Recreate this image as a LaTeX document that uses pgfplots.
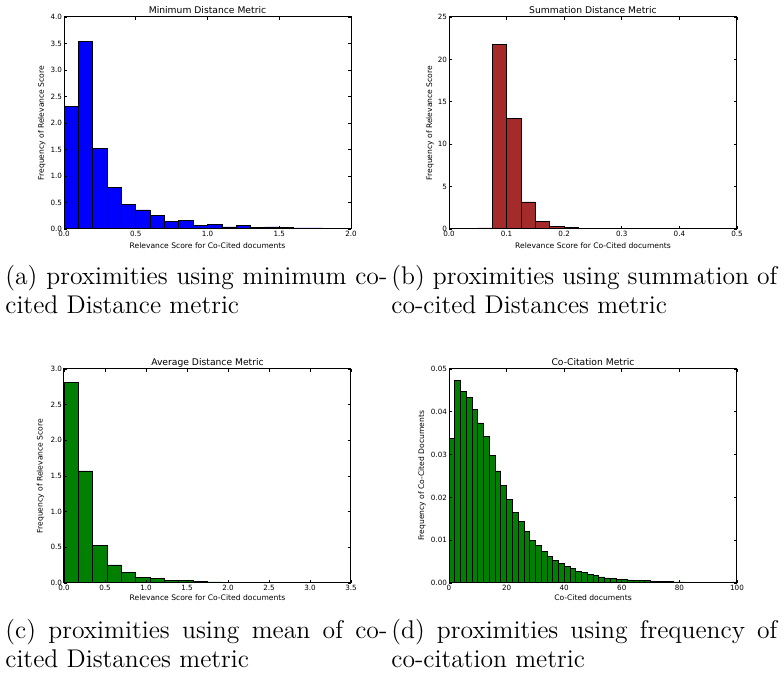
\documentclass[border=0pt]{standalone}
\usepackage{fontspec}
\usepackage{pgfplots}
\pgfplotsset{compat=1.18}
\newfontfamily\mpl{DejaVu Sans}

\definecolor{mplblue}{HTML}{0000FF}
\definecolor{mplbrown}{HTML}{A52A2A}
\definecolor{mplgreen}{HTML}{008000}

\pgfplotsset{
  mpl/.style={
    scale only axis,
    axis on top,
    axis line style={line width=0.5pt},
    tick align=inside,
    major tick length=1.3pt,
    tick style={line width=0.4pt, black},
    tick label style={font=\mpl\fontsize{3.6}{4.3}\selectfont, inner sep=0.8pt},
    /pgf/number format/assume math mode=true,
    label style={font=\mpl\fontsize{3.8}{4.5}\selectfont},
    every axis title shift=0pt,
    title style={font=\mpl\fontsize{4.6}{5.5}\selectfont, at={(axis description cs:0.5,1)}, anchor=base, yshift=1.7pt},
    scaled ticks=false,
    ymin=0,
  },
  onedec/.style={/pgf/number format/.cd, fixed, fixed zerofill, precision=1},
  bars/.style={ybar interval, draw=black, line width=0.35pt},
}
\tikzset{capt/.style={anchor=base west, inner sep=0pt, font=\fontsize{12.8}{15}\selectfont}}

\begin{document}
\begin{tikzpicture}
\useasboundingbox (0,0) rectangle (392pt,336.5pt);

% (a)
\begin{axis}[mpl, at={(32pt,222pt)}, anchor=south west, width=143.5pt, height=106pt,
  xmin=0, xmax=2, ymax=4,
  xtick={0,0.5,...,2}, ytick={0,0.5,...,4},
  xticklabel style={onedec}, yticklabel style={onedec},
  title={Minimum Distance Metric},
  xlabel={Relevance Score for Co-Cited documents},
  ylabel={Frequency of Relevance Score},
  xlabel style={at={(axis description cs:0.5,-0.094)}, anchor=base},
  ylabel style={at={(axis description cs:-0.077,0.5)}, anchor=center},
]
\addplot[bars, fill=mplblue] coordinates {
(0.0,2.32)(0.1,3.54)(0.2,1.52)(0.3,0.78)(0.4,0.47)(0.5,0.36)(0.6,0.25)(0.7,0.14)
(0.8,0.155)(0.9,0.07)(1.0,0.09)(1.1,0.04)(1.2,0.075)(1.3,0.025)(1.4,0.04)(1.5,0.03)
(1.6,0.02)(1.7,0.02)(1.8,0.012)(1.9,0.012)(2.0,0)};
\end{axis}

% (b)
\begin{axis}[mpl, at={(224.5pt,222pt)}, anchor=south west, width=144pt, height=106pt,
  xmin=0, xmax=0.5, ymax=25,
  xtick={0,0.1,...,0.5}, ytick={0,5,...,25},
  xticklabel style={onedec},
  title={Summation Distance Metric},
  xlabel={Relevance Score for Co-Cited documents},
  ylabel={Frequency of Relevance Score},
  xlabel style={at={(axis description cs:0.5,-0.094)}, anchor=base},
  ylabel style={at={(axis description cs:-0.066,0.5)}, anchor=center},
]
\addplot[bars, fill=mplbrown] coordinates {
(0.025,0.08)(0.05,0.12)(0.075,21.75)(0.1,13.05)(0.125,3.2)(0.15,0.94)(0.175,0.35)
(0.2,0.15)(0.225,0.08)(0.25,0.04)(0.275,0.03)(0.3,0.02)(0.325,0)};
\end{axis}

% (c)
\begin{axis}[mpl, at={(32pt,45pt)}, anchor=south west, width=143.5pt, height=107pt,
  xmin=0, xmax=3.5, ymax=3,
  xtick={0,0.5,...,3.5}, ytick={0,0.5,...,3},
  xticklabel style={onedec}, yticklabel style={onedec},
  title={Average Distance Metric},
  xlabel={Relevance Score for Co-Cited documents},
  ylabel={Frequency of Relevance Score},
  xlabel style={at={(axis description cs:0.5,-0.084)}, anchor=base},
  ylabel style={at={(axis description cs:-0.082,0.5)}, anchor=center},
]
\addplot[bars, fill=mplgreen] coordinates {
(0.0,2.81)(0.175,1.57)(0.35,0.525)(0.525,0.253)(0.7,0.145)(0.875,0.08)(1.05,0.06)
(1.225,0.038)(1.4,0.038)(1.575,0.023)(1.75,0.015)(1.925,0.01)(2.1,0.01)(2.275,0.006)
(2.45,0.005)(2.625,0.002)(2.8,0.002)(2.975,0.002)(3.15,0.002)(3.325,0.002)(3.5,0)};
\end{axis}

% (d)
\begin{axis}[mpl, at={(224.5pt,45pt)}, anchor=south west, width=144pt, height=107pt,
  xmin=0, xmax=100, ymax=0.05,
  xtick={0,20,...,100}, ytick={0,0.01,...,0.05},
  yticklabel style={/pgf/number format/.cd, fixed, fixed zerofill, precision=2},
  title={Co-Citation Metric},
  xlabel={Co-Cited documents},
  ylabel={Frequency of Co-Cited Documents},
  xlabel style={at={(axis description cs:0.5,-0.084)}, anchor=base},
  ylabel style={at={(axis description cs:-0.094,0.5)}, anchor=center},
]
\addplot[bars, fill=mplgreen] coordinates {
(0,0.0337)(2,0.0473)(4,0.0447)(6,0.0434)(8,0.0405)(10,0.0374)(12,0.0342)(14,0.0298)
(16,0.0262)(18,0.0227)(20,0.0195)(22,0.0165)(24,0.0143)(26,0.0121)(28,0.0100)(30,0.0087)
(32,0.0073)(34,0.0062)(36,0.0052)(38,0.0046)(40,0.0038)(42,0.0034)(44,0.0028)(46,0.0024)
(48,0.0020)(50,0.0017)(52,0.0014)(54,0.0012)(56,0.0010)(58,0.0009)(60,0.0008)(62,0.0007)
(64,0.0006)(66,0.0005)(68,0.0005)(70,0.0004)(72,0.0003)(74,0.0003)(76,0.0003)(78,0.00025)
(80,0.00025)(82,0.0002)(84,0.0002)(86,0.00015)(88,0.00015)(90,0.00015)(92,0.00015)
(94,0.00015)(96,0.00015)(98,0.00025)(100,0)};
\end{axis}

% sub-captions
\node[capt] at (2.5pt,194pt) {\makebox[191pt][s]{(a) proximities using minimum co-}};
\node[capt] at (2.5pt,179.5pt) {cited Distance metric};
\node[capt] at (195.5pt,194pt) {\makebox[193pt][s]{(b) proximities using summation of}};
\node[capt] at (195.5pt,179.5pt) {co-cited Distances metric};
\node[capt] at (2.5pt,17pt) {\makebox[191pt][s]{(c) proximities using mean of co-}};
\node[capt] at (2.5pt,2.5pt) {cited Distances metric};
\node[capt] at (195.5pt,17pt) {\makebox[193pt][s]{(d) proximities using frequency of}};
\node[capt] at (195.5pt,2.5pt) {co-citation metric};
\end{tikzpicture}
\end{document}
